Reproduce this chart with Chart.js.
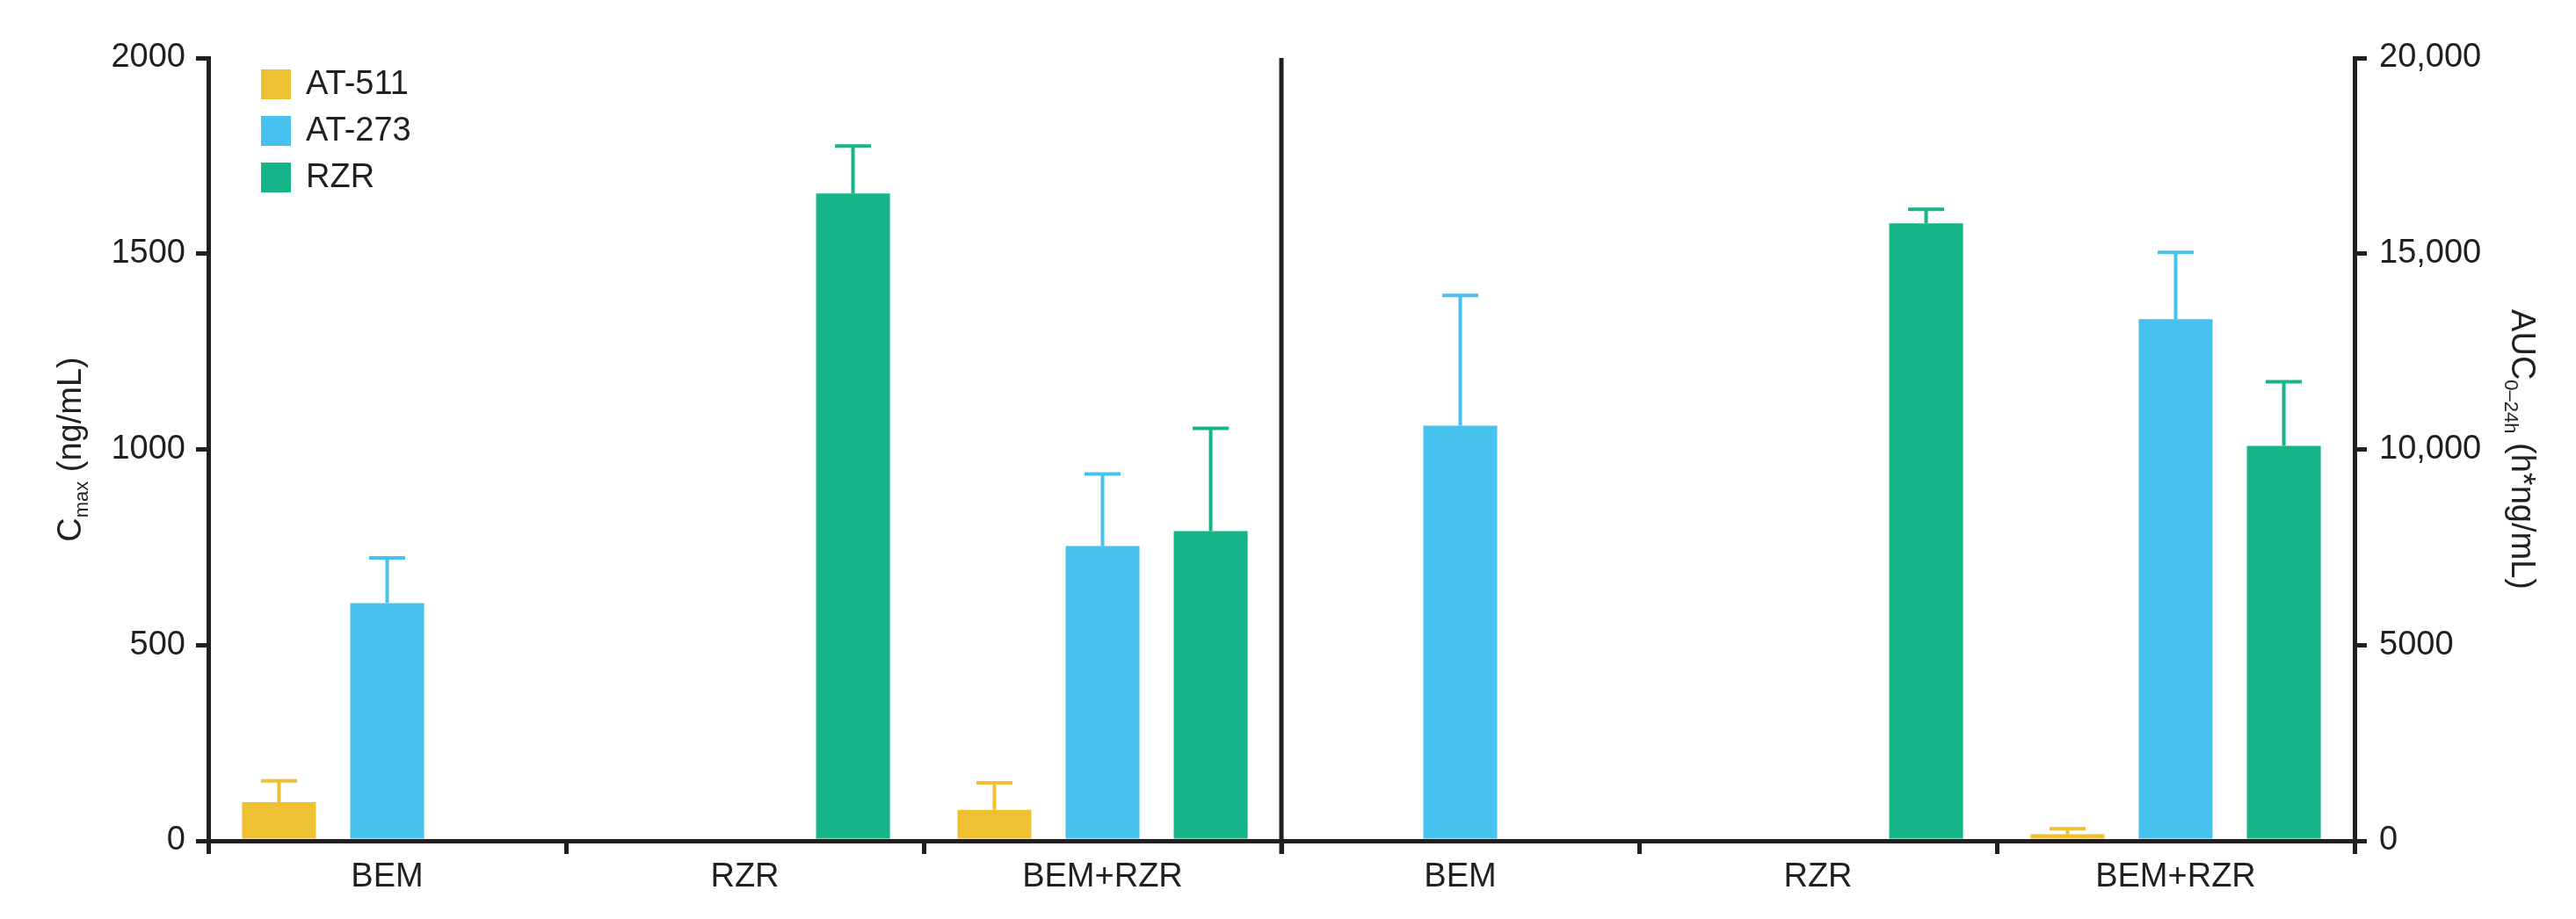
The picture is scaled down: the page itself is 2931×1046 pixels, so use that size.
<!DOCTYPE html>
<html>
<head>
<meta charset="utf-8">
<script src="https://cdn.jsdelivr.net/npm/chart.js@4.4.1/dist/chart.umd.min.js"></script>
<style>
  html, body { margin: 0; padding: 0; background: #fff; }
  #wrap { width: 2931px; height: 1046px; }
</style>
</head>
<body>
<div id="wrap"><canvas id="chart" width="2931" height="1046"></canvas></div>
<script>
// groups on each half of the plot
const groups = ['BEM', 'RZR', 'BEM+RZR'];
const seriesNames = ['AT-511', 'AT-273', 'RZR'];
const seriesColors = ['#EDC131', '#47C1ED', '#15B489'];

// Cmax (ng/mL), left half
const cmaxAT511 = [99, null, 79];
const cmaxAT511Sd = [54, null, 69];
const cmaxAT273 = [607, null, 753];
const cmaxAT273Sd = [116, null, 184];
const cmaxRZR = [null, 1654, 791];
const cmaxRZRSd = [null, 121, 263];

// AUC 0-24h (h*ng/mL), right half
const aucAT511 = [null, null, 170];
const aucAT511Sd = [null, null, 140];
const aucAT273 = [10607, null, 13326];
const aucAT273Sd = [3326, null, 1708];
const aucRZR = [null, 15775, 10090];
const aucRZRSd = [null, 360, 1640];

const leftTicks = [0, 500, 1000, 1500, 2000];
const rightTicks = [0, 5000, 10000, 15000, 20000];

const INK = '#231f20';
const FONT = "'Liberation Sans', Arial, Helvetica, sans-serif";
const empty = [null, null, null];

const labels = groups.concat(groups);
const cmaxSets = [cmaxAT511, cmaxAT273, cmaxRZR];
const cmaxSds = [cmaxAT511Sd, cmaxAT273Sd, cmaxRZRSd];
const aucSets = [aucAT511, aucAT273, aucRZR];
const aucSds = [aucAT511Sd, aucAT273Sd, aucRZRSd];

const datasets = [];
seriesNames.forEach((name, i) => {
  datasets.push({
    label: name,
    data: cmaxSets[i].concat(empty),
    sd: cmaxSds[i].concat(empty),
    backgroundColor: seriesColors[i],
    yAxisID: 'y',
    stack: 's' + i,
  });
});
seriesNames.forEach((name, i) => {
  datasets.push({
    label: name + ' AUC',
    data: empty.concat(aucSets[i]),
    sd: empty.concat(aucSds[i]),
    backgroundColor: seriesColors[i],
    yAxisID: 'y2',
    stack: 's' + i,
  });
});

const errorBars = {
  id: 'errorBars',
  afterDatasetsDraw(chart) {
    const ctx = chart.ctx;
    ctx.save();
    ctx.lineWidth = 4;
    chart.data.datasets.forEach((ds, i) => {
      const meta = chart.getDatasetMeta(i);
      const scale = chart.scales[ds.yAxisID];
      ctx.strokeStyle = ds.backgroundColor;
      meta.data.forEach((bar, j) => {
        const v = ds.data[j];
        const sd = ds.sd[j];
        if (v == null || sd == null) return;
        const top = scale.getPixelForValue(v + sd);
        ctx.beginPath();
        ctx.moveTo(bar.x, bar.y);
        ctx.lineTo(bar.x, top);
        ctx.moveTo(bar.x - 20.5, top);
        ctx.lineTo(bar.x + 20.5, top);
        ctx.stroke();
      });
    });
    ctx.restore();
  }
};

const decorations = {
  id: 'decorations',
  afterDraw(chart) {
    const ctx = chart.ctx;
    const area = chart.chartArea;
    const x = chart.scales.x;
    ctx.save();

    // divider between the two halves
    const mid = (x.getPixelForValue(2) + x.getPixelForValue(3)) / 2;
    ctx.strokeStyle = INK;
    ctx.lineWidth = 5;
    ctx.beginPath();
    ctx.moveTo(mid, area.top);
    ctx.lineTo(mid, area.bottom + 15);
    ctx.stroke();

    // legend
    ctx.textBaseline = 'middle';
    ctx.textAlign = 'left';
    ctx.font = '38px ' + FONT;
    seriesNames.forEach((name, i) => {
      const y = 79 + i * 53;
      ctx.fillStyle = seriesColors[i];
      ctx.fillRect(297, y, 34, 34);
      ctx.fillStyle = INK;
      ctx.fillText(name, 348, y + 18);
    });

    // axis titles with subscripts
    const cy = (area.top + area.bottom) / 2;
    drawTitle(ctx, 92, cy, -Math.PI / 2, 'C', 'max', ' (ng/mL)');
    drawTitle(ctx, 2858, cy, Math.PI / 2, 'AUC', '0\u201324h', ' (h*ng/mL)');
    ctx.restore();
  }
};

function drawTitle(ctx, x, y, angle, main, sub, rest) {
  const big = '38px ' + FONT;
  const small = '22px ' + FONT;
  ctx.save();
  ctx.translate(x, y);
  ctx.rotate(angle);
  ctx.fillStyle = INK;
  ctx.textBaseline = 'alphabetic';
  ctx.textAlign = 'left';
  ctx.font = big;
  const w1 = ctx.measureText(main).width;
  const w3 = ctx.measureText(rest).width;
  ctx.font = small;
  const w2 = ctx.measureText(sub).width;
  let cx = -(w1 + w2 + w3) / 2;
  ctx.font = big;
  ctx.fillText(main, cx, 0);
  cx += w1;
  ctx.font = small;
  ctx.fillText(sub, cx, 8);
  cx += w2;
  ctx.font = big;
  ctx.fillText(rest, cx, 0);
  ctx.restore();
}

const axisFont = { family: FONT, size: 38 };

new Chart(document.getElementById('chart'), {
  type: 'bar',
  data: { labels, datasets },
  plugins: [errorBars, decorations],
  options: {
    responsive: false,
    animation: false,
    devicePixelRatio: 1,
    layout: { padding: { top: 66, left: 0, right: 0, bottom: 0 } },
    datasets: {
      bar: { categoryPercentage: 0.907, barPercentage: 0.683, borderWidth: 0 }
    },
    plugins: { legend: { display: false }, tooltip: { enabled: false } },
    scales: {
      x: {
        grid: { drawOnChartArea: false, tickLength: 15, lineWidth: 5, color: INK, offset: true },
        border: { display: true, width: 5, color: INK },
        ticks: { font: axisFont, color: INK, padding: 4, maxRotation: 0 },
        afterFit(s) { s.height = 89; }
      },
      y: {
        position: 'left',
        min: 0,
        max: 2000,
        afterBuildTicks(s) { s.ticks = leftTicks.map(v => ({ value: v })); },
        grid: { drawOnChartArea: false, tickLength: 14, lineWidth: 5, color: INK },
        border: { display: true, width: 5, color: INK },
        ticks: { font: axisFont, color: INK, padding: 12, callback: v => String(v) },
        afterFit(s) { s.width = 237; }
      },
      y2: {
        position: 'right',
        min: 0,
        max: 20000,
        afterBuildTicks(s) { s.ticks = rightTicks.map(v => ({ value: v })); },
        grid: { drawOnChartArea: false, tickLength: 14, lineWidth: 5, color: INK },
        border: { display: true, width: 5, color: INK },
        ticks: {
          font: axisFont, color: INK, padding: 14,
          callback: v => v >= 10000 ? v.toLocaleString('en-US') : String(v)
        },
        afterFit(s) { s.width = 252; }
      }
    }
  }
});
</script>
</body>
</html>
